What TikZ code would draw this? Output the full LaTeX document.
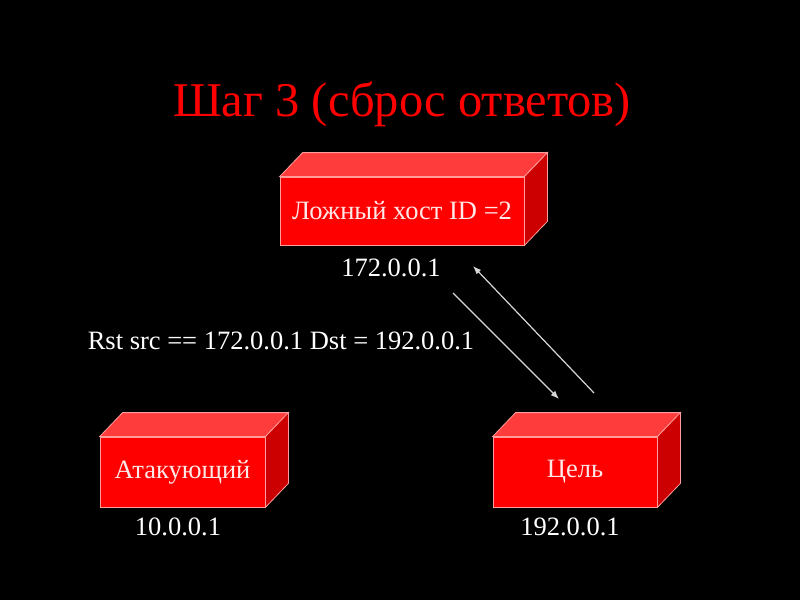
\documentclass[tikz,border=0pt]{standalone}
\usepackage{fontspec}
\setmainfont{Liberation Serif}
\usetikzlibrary{arrows.meta,calc,positioning}
\definecolor{boxred}{HTML}{FF0000}
\definecolor{boxtop}{HTML}{FF3C3C}
\definecolor{boxside}{HTML}{CC0000}
\definecolor{boxedge}{HTML}{FF9C9C}
\definecolor{boxtext}{HTML}{FFE8E8}
\definecolor{msgline}{HTML}{D8D8D8}

\begin{document}
\begin{tikzpicture}[x=1pt,y=-1pt,>=Latex,
    hostbox/.style={rectangle,fill=boxred,draw=boxedge,line width=0.8pt,inner sep=0pt,
      text=boxtext,font=\fontsize{26.5}{30}\selectfont},
    iplabel/.style={text=white,font=\fontsize{26.5}{30}\selectfont},
    msg/.style={->,msgline,line width=1.2pt}]
      \fill[black] (0,0) rectangle (800,600);
      \useasboundingbox (0,0) rectangle (800,600);
      \node[text=red,font=\fontsize{48.5}{54}\selectfont] (title) at (402,104) {Шаг 3 (сброс ответов)};
      \node[hostbox,minimum width=244,minimum height=68] (spoof) at (402,211) {Ложный хост ID =2};
      \node[hostbox,minimum width=165,minimum height=70] (attacker) at (182.5,472) {Атакующий};
      \node[hostbox,minimum width=164,minimum height=70] (target) at (575,472) {Цель};
      \foreach \n in {spoof,attacker,target} {
        \filldraw[fill=boxtop,draw=boxedge,line width=0.8pt] (\n.north west) -- ++(23,-24)
          -- ($(\n.north east)+(23,-24)$) -- (\n.north east) -- cycle;
        \filldraw[fill=boxside,draw=boxedge,line width=0.8pt] (\n.north east) -- ++(23,-24)
          -- ($(\n.south east)+(23,-24)$) -- (\n.south east) -- cycle;
      }
      \node[iplabel] (spoofip) at (391,268) {172.0.0.1};
      \node[iplabel] (attackerip) at (178,527) {10.0.0.1};
      \node[iplabel] (targetip) at (570,527) {192.0.0.1};
      \node[iplabel] (rst) at (281,341) {Rst src == 172.0.0.1 Dst = 192.0.0.1};
      \coordinate (rsta) at (453,293);
      \coordinate (rstb) at (559,399);
      \coordinate (ansa) at (594,393);
      \coordinate (ansb) at (473,266);
      \draw[msg] (rsta) -- (rstb);
      \draw[msg] (ansa) -- (ansb);
\end{tikzpicture}
\end{document}
